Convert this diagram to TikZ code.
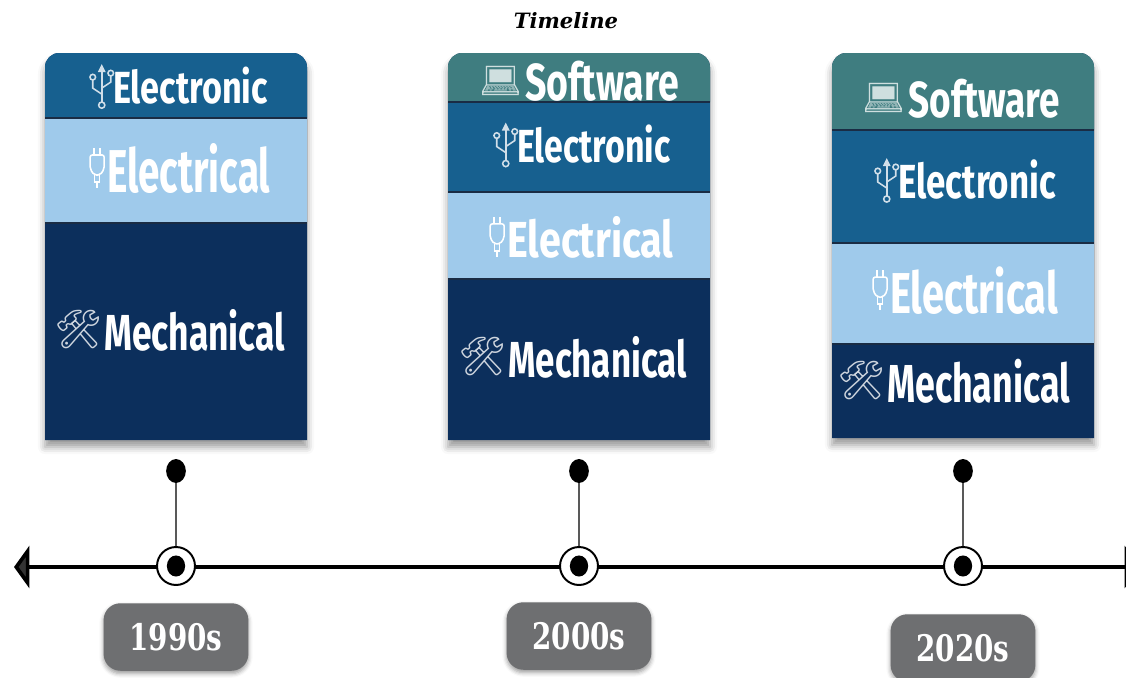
\documentclass[tikz,border=0pt]{standalone}
\usepackage{fontspec}
\setmainfont{DejaVu Serif}
\newfontfamily\bandfont{Fira Sans}
\newfontfamily\yearfont[FakeStretch=0.76]{DejaVu Serif}
\newfontfamily\emojifont{Noto Emoji}
\usetikzlibrary{arrows.meta,positioning,shadows.blur,shapes.geometric}

\definecolor{softc}{HTML}{3F7D80}
\definecolor{tronc}{HTML}{17608F}
\definecolor{tricc}{HTML}{9FCAEB}
\definecolor{mechc}{HTML}{0C2F5C}
\definecolor{edgec}{HTML}{1A2C44}
\definecolor{yearc}{HTML}{6E6F71}

\tikzset{
  lab/.style 2 args={anchor=base west, inner sep=0pt, text=white,
    font=\bandfont\bfseries\addfontfeatures{FakeStretch=#2}\fontsize{#1}{#1}\selectfont},
  ico/.style={inner sep=0pt, font=\emojifont\fontsize{#1}{#1}\selectfont},
  sep/.style={draw=edgec, line width=1pt},
  boxshadow/.style={blur shadow={shadow xshift=0pt, shadow yshift=-5pt, shadow blur radius=5pt}},
  yearbox/.style={fill=yearc, rounded corners=12pt, minimum width=103pt,
    minimum height=48pt, text=white, inner sep=0pt,
    font=\yearfont\bfseries\fontsize{26}{26}\selectfont,
    blur shadow={shadow xshift=0pt, shadow yshift=-2pt, shadow blur radius=3pt}},
  ring/.style={circle, draw=black, line width=1.4pt, fill=white,
    minimum size=27pt, inner sep=0pt},
  dot/.style={ellipse, fill=black, minimum width=14pt, minimum height=17pt, inner sep=0pt},
  stem/.style={draw=black!65, line width=1pt},
  usbicon/.pic={
    \draw[line width=1.1pt] (0,17) -- (0,-14);
    \fill (0,-21) -- (-4,-13) -- (4,-13) -- cycle;
    \draw[line width=1.1pt] (0,20) circle[radius=2.2pt];
    \draw[line width=1.1pt] (0,9) -- (-9,3) -- (-9,-5);
    \draw[line width=1.1pt] (-9,-8) circle[radius=2pt];
    \draw[line width=1.1pt] (0,3) -- (9,-3) -- (9,-9);
    \draw[line width=1.1pt] (9,-12) circle[radius=2pt];
  },
  plugicon/.pic={
    \draw[line width=1.1pt] (-3,-20) -- (-3,-13) (3,-20) -- (3,-13);
    \draw[line width=1.1pt, rounded corners=1.5pt] (-7,-13) -- (7,-13) -- (7,1) -- (3,7) -- (-3,7) -- (-7,1) -- cycle;
    \draw[line width=1.1pt] (-2.5,7) -- (-2.5,14) -- (2.5,14) -- (2.5,7);
    \draw[line width=1.1pt] (0,14) -- (0,20);
  }
}

\begin{document}
\begin{tikzpicture}[x=0.025cm,y=-0.025cm]
\useasboundingbox (0,0) rectangle (1126,678);

\node[font=\bfseries\itshape\fontsize{15}{15}\selectfont] (title) at (566,21) {Timeline};

% 1990s box
\path[boxshadow, fill=mechc] (45,440) [rounded corners=10pt]-- (45,53) -- (307,53) [sharp corners]-- (307,440) -- cycle;
\fill[tronc] (45,118) [rounded corners=10pt]-- (45,53) -- (307,53) [sharp corners]-- (307,118) -- cycle;
\fill[tricc] (45,118) rectangle (307,223);
\draw[sep] (45,118) -- (307,118) (45,223) -- (307,223);
\node[lab={32}{0.76}] (b1e) at (113,103) {Electronic};
\node[lab={43}{0.64}] (b1l) at (107,192) {Electrical};
\node[lab={36}{0.70}] (b1m) at (104,350) {Mechanical};
\pic[white!80!tronc] at ([xshift=-8pt]b1e.west) {usbicon};
\pic[white] at ([xshift=-7pt]b1l.west) {plugicon};
\node[ico=27, text=white!80!mechc, left=1pt of b1m] (i1m) {🛠};

% 2000s box
\path[boxshadow, fill=mechc] (448,440) [rounded corners=10pt]-- (448,53) -- (710,53) [sharp corners]-- (710,440) -- cycle;
\fill[softc] (448,102) [rounded corners=10pt]-- (448,53) -- (710,53) [sharp corners]-- (710,102) -- cycle;
\fill[tronc] (448,102) rectangle (710,192);
\fill[tricc] (448,192) rectangle (710,279);
\draw[sep] (448,102) -- (710,102) (448,192) -- (710,192) (448,279) -- (710,279);
\node[lab={37}{0.72}] (b2s) at (525,100) {Software};
\node[lab={33}{0.73}] (b2e) at (517,162) {Electronic};
\node[lab={36}{0.78}] (b2l) at (507,257) {Electrical};
\node[lab={36}{0.69}] (b2m) at (508,377) {Mechanical};
\node[ico=24, text=white!75!softc, left=2pt of b2s] (i2s) {💻};
\pic[white!80!tronc] at ([xshift=-8pt]b2e.west) {usbicon};
\pic[white] at ([xshift=-7pt]b2l.west) {plugicon};
\node[ico=27, text=white!80!mechc, left=1pt of b2m] (i2m) {🛠};

% 2020s box
\path[boxshadow, fill=mechc] (832,438) [rounded corners=10pt]-- (832,53) -- (1094,53) [sharp corners]-- (1094,438) -- cycle;
\fill[softc] (832,130) [rounded corners=10pt]-- (832,53) -- (1094,53) [sharp corners]-- (1094,130) -- cycle;
\fill[tronc] (832,130) rectangle (1094,243);
\fill[tricc] (832,243) rectangle (1094,344);
\draw[sep] (832,130) -- (1094,130) (832,243) -- (1094,243) (832,344) -- (1094,344);
\node[lab={36}{0.73}] (b3s) at (908,117) {Software};
\node[lab={34}{0.73}] (b3e) at (898,198) {Electronic};
\node[lab={41}{0.69}] (b3l) at (890,313) {Electrical};
\node[lab={38}{0.67}] (b3m) at (887,402) {Mechanical};
\node[ico=24, text=white!75!softc, left=2pt of b3s] (i3s) {💻};
\pic[white!80!tronc] at ([xshift=-8pt]b3e.west) {usbicon};
\pic[white] at ([xshift=-7pt]b3l.west) {plugicon};
\node[ico=27, text=white!80!mechc, left=1pt of b3m] (i3m) {🛠};

% timeline
\coordinate (lend) at (14,567);
\coordinate (rend) at (1140,567);
\draw[line width=2.6pt, {Triangle[length=11pt,width=30pt]}-{Triangle[length=11pt,width=30pt]}] (lend) -- (rend);
\foreach \x/\n/\yr/\yy in {176/1/1990s/637, 579/2/2000s/636, 963/3/2020s/648}{
  \node[dot] (d\n) at (\x,471) {};
  \node[ring] (t\n) at (\x,566) {};
  \draw[stem] (d\n) -- (t\n);
  \node[dot, minimum width=13pt, minimum height=15pt] (c\n) at (t\n) {};
  \node[yearbox] (y\n) at (\x,\yy) {\yr};
}
\end{tikzpicture}
\end{document}
